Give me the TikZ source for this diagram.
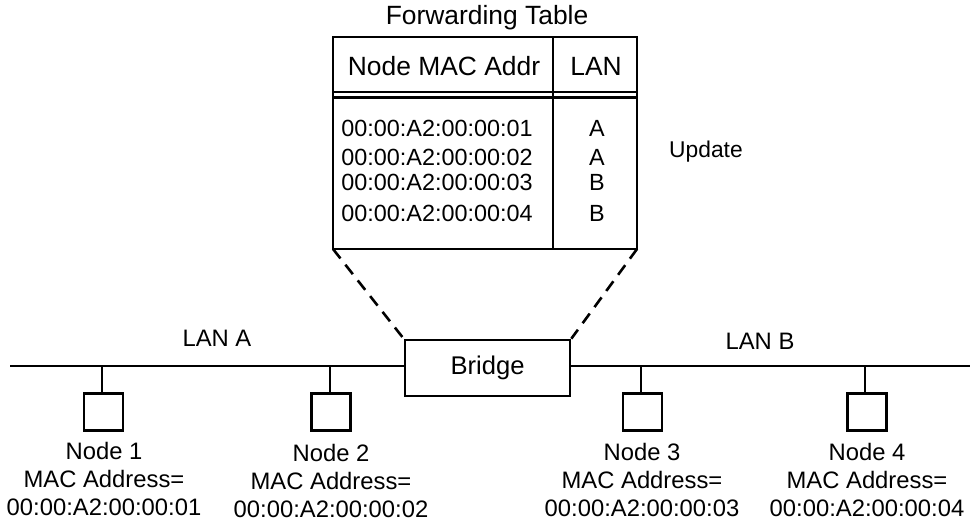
\documentclass[tikz,border=0pt]{standalone}
\usepackage{fontspec}
\setmainfont{Liberation Sans}
\begin{document}
\begin{tikzpicture}[x=0.5pt,y=-0.5pt,
  wire/.style={line width=1.3pt},
  zoomline/.style={line width=1.3pt,dash pattern=on 6pt off 4pt},
  station/.style={draw,line width=1.3pt,minimum width=19.5pt,minimum height=18.5pt,inner sep=0pt},
  lbl/.style={font=\fontsize{11.9}{13.8}\selectfont,align=center,inner sep=0pt},
  entry/.style={font=\fontsize{11.7}{14}\selectfont,inner sep=0pt},
  head/.style={font=\fontsize{13.2}{16}\selectfont,inner sep=0pt}]
\useasboundingbox (0,0) rectangle (979,520);

% forwarding table
\node[head] (title) at (487,18) {Forwarding Table};
\draw[wire] (333,37) rectangle (637,249);
\draw[wire] (553,37) -- (553,249);
\draw[line width=0.9pt] (333,92) -- (637,92);
\draw[line width=1.6pt] (333,97.5) -- (637,97.5);
\node[head] (hmac) at (444,66) {Node MAC Addr};
\node[head] (hlan) at (596,66) {LAN};
\node[entry,anchor=west] (m1) at (341,128) {00:00:A2:00:00:01};
\node[entry,anchor=west] (m2) at (341,157) {00:00:A2:00:00:02};
\node[entry,anchor=west] (m3) at (341,182) {00:00:A2:00:00:03};
\node[entry,anchor=west] (m4) at (341,213) {00:00:A2:00:00:04};
\node[entry] (l1) at (597,128) {A};
\node[entry] (l2) at (597,157) {A};
\node[entry] (l3) at (597,182) {B};
\node[entry] (l4) at (597,213) {B};
\coordinate (tbl) at (333,249);
\coordinate (tbr) at (637,249);
\node[lbl,font=\fontsize{11.4}{14}\selectfont] (upd) at (706,152) {Update};

% bridge and LAN segments
\node[draw,line width=1.3pt,minimum width=82.5pt,minimum height=28pt,inner sep=0pt,
  font=\fontsize{12.8}{15}\selectfont] (bridge) at (487.5,368) {Bridge};
\coordinate (aend) at (10,366);
\coordinate (bend) at (970,366);
\draw[wire] (aend) -- (aend -| bridge.west);
\draw[wire] (bridge.east |- bend) -- (bend);
\draw[zoomline] (tbl) -- (bridge.north west);
\draw[zoomline] (tbr) -- (bridge.north east);
\node[lbl] (lana) at (217,338) {LAN A};
\node[lbl] (lanb) at (760,341) {LAN B};

% stations
\foreach \i/\x/\c in {1/103.5/102,2/331/330,3/642.5/641,4/867/865}{
  \node[station] (s\i) at (\x,412) {};
  \coordinate (t\i) at (\c,366);
  \draw[wire] (t\i) -- (t\i |- s\i.north);
}
\node[lbl] (n1) at (104,479) {Node 1\\MAC Address=\\00:00:A2:00:00:01};
\node[lbl] (n2) at (331,481) {Node 2\\MAC Address=\\00:00:A2:00:00:02};
\node[lbl] (n3) at (642,480) {Node 3\\MAC Address=\\00:00:A2:00:00:03};
\node[lbl] (n4) at (867,480) {Node 4\\MAC Address=\\00:00:A2:00:00:04};
\end{tikzpicture}
\end{document}
